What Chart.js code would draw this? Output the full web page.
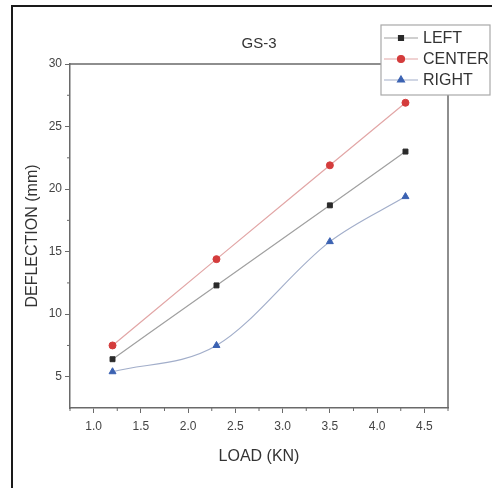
<!DOCTYPE html>
<html>
<head>
<meta charset="utf-8">
<script src="https://cdn.jsdelivr.net/npm/chart.js@4.4.1/dist/chart.umd.min.js"></script>
<style>
  html, body { margin: 0; padding: 0; background: #fff; }
  #wrap { position: relative; width: 492px; height: 488px; }
</style>
</head>
<body>
<div id="wrap"><canvas id="c" width="492" height="488"></canvas></div>
<script>
// ---- data ----
const loads = [1.2, 2.3, 3.5, 4.3];
const leftDefl = [6.4, 12.3, 18.7, 23.0];
const centerDefl = [7.5, 14.4, 21.9, 26.9];
const rightDefl = [5.4, 7.5, 15.8, 19.4];
const seriesNames = ['LEFT', 'CENTER', 'RIGHT'];
const xTickValues = [1.0, 1.5, 2.0, 2.5, 3.0, 3.5, 4.0, 4.5];
const yTickValues = [5, 10, 15, 20, 25, 30];
const chartTitle = 'GS-3';
const xTitle = 'LOAD (KN)';
const yTitle = 'DEFLECTION (mm)';

const FONT = "'Liberation Sans', Arial, sans-serif";
const toPts = (ys) => loads.map((x, i) => ({ x: x, y: ys[i] }));

const styles = [
  { line: '#a0a0a0', point: '#2a2a2a', shape: 'rect', r: 3.5 },
  { line: '#e2a6a6', point: '#d43c3c', shape: 'circle', r: 3.5 },
  { line: '#a2aeca', point: '#3b62b2', shape: 'triangle', r: 4 }
];
const allY = [leftDefl, centerDefl, rightDefl];

const datasets = allY.map((ys, i) => ({
  label: seriesNames[i],
  data: toPts(ys),
  borderColor: styles[i].line,
  borderWidth: 1.2,
  cubicInterpolationMode: 'monotone',
  pointStyle: styles[i].shape,
  pointRadius: styles[i].r,
  pointBackgroundColor: styles[i].point,
  pointBorderColor: styles[i].point,
  pointBorderWidth: 1,
  fill: false
}));

const framePlugin = {
  id: 'frame',
  beforeDraw(chart) {
    const ctx = chart.ctx;
    ctx.save();
    ctx.strokeStyle = '#1a1a1a';
    ctx.lineWidth = 2;
    ctx.beginPath();
    ctx.moveTo(12, 488);
    ctx.lineTo(12, 6);
    ctx.lineTo(492, 6);
    ctx.stroke();
    ctx.restore();
  },
  afterDraw(chart) {
    const ctx = chart.ctx;
    const a = chart.chartArea;
    const xs = chart.scales.x, ys = chart.scales.y;
    ctx.save();
    ctx.strokeStyle = '#6a6a6a';
    ctx.lineWidth = 1.5;
    // top and right frame lines
    ctx.beginPath();
    ctx.moveTo(a.left, a.top);
    ctx.lineTo(a.right, a.top);
    ctx.lineTo(a.right, a.bottom);
    ctx.stroke();
    // minor ticks
    ctx.lineWidth = 1;
    ctx.beginPath();
    for (let i = 0; i < xTickValues.length; i++) {
      const v = xTickValues[i] + 0.25;
      if (v <= xs.max) {
        const px = xs.getPixelForValue(v);
        ctx.moveTo(px, a.bottom);
        ctx.lineTo(px, a.bottom + 3);
      }
    }
    const v0 = xTickValues[0] - 0.25;
    if (v0 >= xs.min) {
      const px = xs.getPixelForValue(v0);
      ctx.moveTo(px, a.bottom); ctx.lineTo(px, a.bottom + 3);
    }
    for (let i = 0; i < yTickValues.length; i++) {
      const v = yTickValues[i] - 2.5;
      if (v > ys.min) {
        const py = ys.getPixelForValue(v);
        ctx.moveTo(a.left, py);
        ctx.lineTo(a.left - 3, py);
      }
    }
    ctx.stroke();

    // legend box
    const bx = 381, by = 25, bw = 109, bh = 70;
    ctx.fillStyle = '#ffffff';
    ctx.fillRect(bx, by, bw, bh);
    ctx.strokeStyle = '#a8a8a8';
    ctx.lineWidth = 1.2;
    ctx.strokeRect(bx, by, bw, bh);
    const rows = [38, 59, 80];
    chart.data.datasets.forEach((ds, i) => {
      const y = rows[i];
      ctx.strokeStyle = ds.borderColor;
      ctx.lineWidth = 1.2;
      ctx.beginPath();
      ctx.moveTo(384, y);
      ctx.lineTo(418, y);
      ctx.stroke();
      ctx.fillStyle = ds.pointBackgroundColor;
      ctx.strokeStyle = ds.pointBorderColor;
      Chart.helpers.drawPoint(ctx, { pointStyle: ds.pointStyle, radius: ds.pointRadius, borderWidth: 1, rotation: 0 }, 401, y);
      ctx.fillStyle = '#333';
      ctx.font = '16px ' + FONT;
      ctx.textBaseline = 'middle';
      ctx.textAlign = 'left';
      ctx.fillText(ds.label, 423, y + 1);
    });
    ctx.restore();
  }
};

new Chart(document.getElementById('c'), {
  type: 'line',
  data: { datasets: datasets },
  options: {
    responsive: false,
    animation: false,
    devicePixelRatio: 1,
    layout: { padding: { left: 0, right: 44, top: 0, bottom: 0 } },
    plugins: {
      legend: { display: false },
      tooltip: { enabled: false },
      title: {
        display: true,
        text: chartTitle,
        fullSize: false,
        color: '#333',
        font: { family: FONT, size: 15, weight: 'normal' },
        padding: { top: 35, bottom: 11 }
      }
    },
    scales: {
      x: {
        type: 'linear',
        min: 0.75,
        max: 4.75,
        afterBuildTicks(s) { s.ticks = xTickValues.map(v => ({ value: v })); },
        afterFit(s) { s.height = 80; },
        ticks: {
          color: '#444',
          font: { family: FONT, size: 12 },
          padding: 6,
          maxRotation: 0,
          callback: (v) => Number(v).toFixed(1)
        },
        grid: { display: true, drawOnChartArea: false, drawTicks: true, tickLength: 5, color: '#6a6a6a', tickWidth: 1 },
        border: { display: true, color: '#6a6a6a', width: 1.5 },
        title: {
          display: true,
          text: xTitle,
          color: '#333',
          font: { family: FONT, size: 16 },
          padding: { top: 4, bottom: 22 }
        }
      },
      y: {
        type: 'linear',
        min: 2.5,
        max: 30,
        afterBuildTicks(s) { s.ticks = yTickValues.map(v => ({ value: v })); },
        afterFit(s) { s.width = 70; },
        ticks: {
          color: '#444',
          font: { family: FONT, size: 12 },
          padding: 3,
          callback: (v) => String(v)
        },
        grid: { display: true, drawOnChartArea: false, drawTicks: true, tickLength: 5, color: '#6a6a6a', tickWidth: 1 },
        border: { display: true, color: '#6a6a6a', width: 1.5 },
        title: {
          display: true,
          text: yTitle,
          color: '#333',
          font: { family: FONT, size: 16 },
          padding: { top: 23, bottom: 4 }
        }
      }
    }
  },
  plugins: [framePlugin]
});
</script>
</body>
</html>
